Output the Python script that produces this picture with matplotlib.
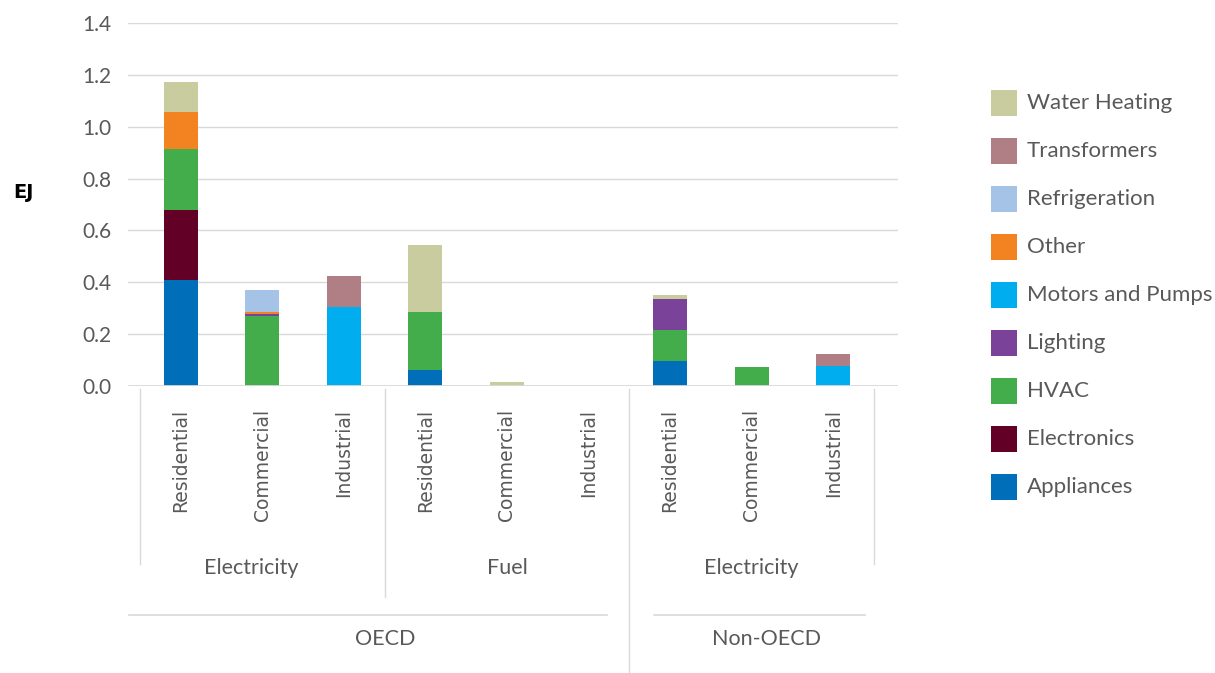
import matplotlib.pyplot as plt
import matplotlib.transforms as mtransforms
from matplotlib.patches import Rectangle
from matplotlib.lines import Line2D

W, H = 1215, 673

sectors = ['Residential', 'Commercial', 'Industrial'] * 3
carriers = ['Electricity', 'Fuel', 'Electricity']
regions = ['OECD', 'Non-OECD']

series = ['Appliances', 'Electronics', 'HVAC', 'Lighting', 'Motors and Pumps',
          'Other', 'Refrigeration', 'Transformers', 'Water Heating']
colors = ['#006eb9', '#620026', '#42ad4a', '#7a4399', '#00aeef',
          '#f38320', '#a5c3e6', '#b07f86', '#c9cc9f']

appliances    = [0.410, 0.000, 0.000, 0.062, 0.000, 0.0, 0.096, 0.000, 0.000]
electronics   = [0.270, 0.000, 0.000, 0.000, 0.000, 0.0, 0.000, 0.000, 0.000]
hvac          = [0.235, 0.270, 0.000, 0.225, 0.000, 0.0, 0.120, 0.073, 0.000]
lighting      = [0.000, 0.008, 0.000, 0.000, 0.000, 0.0, 0.120, 0.000, 0.000]
motors        = [0.000, 0.000, 0.305, 0.000, 0.000, 0.0, 0.000, 0.000, 0.077]
other         = [0.143, 0.008, 0.000, 0.000, 0.000, 0.0, 0.000, 0.000, 0.000]
refrigeration = [0.000, 0.085, 0.000, 0.000, 0.000, 0.0, 0.000, 0.000, 0.000]
transformers  = [0.000, 0.000, 0.120, 0.000, 0.000, 0.0, 0.000, 0.000, 0.046]
water_heating = [0.115, 0.000, 0.000, 0.257, 0.016, 0.0, 0.015, 0.000, 0.000]

values = [appliances, electronics, hvac, lighting, motors, other,
          refrigeration, transformers, water_heating]

yticks = [0.0, 0.2, 0.4, 0.6, 0.8, 1.0, 1.2, 1.4]

txt = '#595959'
grid = '#d9d9d9'
sans = ['Lato', 'DejaVu Sans']

fig = plt.figure(figsize=(W / 100, H / 100), dpi=100)
ax = fig.add_axes([128 / W, (H - 386) / H, 770 / W, 363 / H])

x = list(range(len(sectors)))
bottom = [0.0] * len(sectors)
for name, vals, c in zip(series, values, colors):
    ax.bar(x, vals, width=0.417, bottom=bottom, color=c, label=name, zorder=3)
    bottom = [b + v for b, v in zip(bottom, vals)]

ax.set_xlim(-0.5 - 12 / 81.5, 8.5 + 24 / 81.5)
ax.set_ylim(0, 1.4)
ax.set_yticks(yticks)
ax.set_yticklabels(['%.1f' % t for t in yticks], fontsize=15, color=txt, family=sans)
ax.yaxis.grid(True, color=grid, lw=1)
ax.set_axisbelow(True)
ax.tick_params(axis='y', length=0, pad=12)
ax.set_xticks([])
for s in ax.spines.values():
    s.set_visible(False)
ax.axhline(0, color=grid, lw=2, zorder=4)

# pixel-based figure transform (y down)
px = mtransforms.Affine2D().scale(1 / W, -1 / H).translate(0, 1) + fig.transFigure
bl = mtransforms.blended_transform_factory(ax.transData, px)

# sector labels
for i, s in enumerate(sectors):
    fig.text(i, 409, s, transform=bl, rotation=90, ha='center', va='top',
             fontsize=13.5, color=txt, family='DejaVu Sans')

# separators
for xb, yb in [(-0.5, 564), (2.5, 597), (5.5, 673), (8.5, 564)]:
    fig.add_artist(Line2D([xb, xb], [389, yb], transform=bl, color=grid, lw=1))

# carrier labels
for xc, lab in zip([0.87, 4, 7], carriers):
    fig.text(xc, 568, lab, transform=bl, ha='center', va='center',
             fontsize=15.5, color=txt, family=sans)

# region lines and labels
for (x0, x1), xc, lab in zip([(129, 607), (654, 865)], [385, 766], regions):
    fig.add_artist(Line2D([x0, x1], [615, 615], transform=px, color=grid, lw=1.2))
    fig.text(xc, 639, lab, transform=px, ha='center', va='center',
             fontsize=15.5, color=txt, family=sans)

fig.text(13, 192, 'EJ', transform=px, ha='left', va='center',
         fontsize=14, fontweight='bold', color='black', family='DejaVu Sans')

# legend
for i, (name, c) in enumerate(zip(series[::-1], colors[::-1])):
    yc = 103 + 48 * i
    fig.add_artist(Rectangle((991, yc - 13), 26, 26, transform=px, color=c, lw=0))
    fig.text(1027, yc, name, transform=px, ha='left', va='center',
             fontsize=16, color=txt, family=sans)

fig.savefig('out.png', dpi=100)
